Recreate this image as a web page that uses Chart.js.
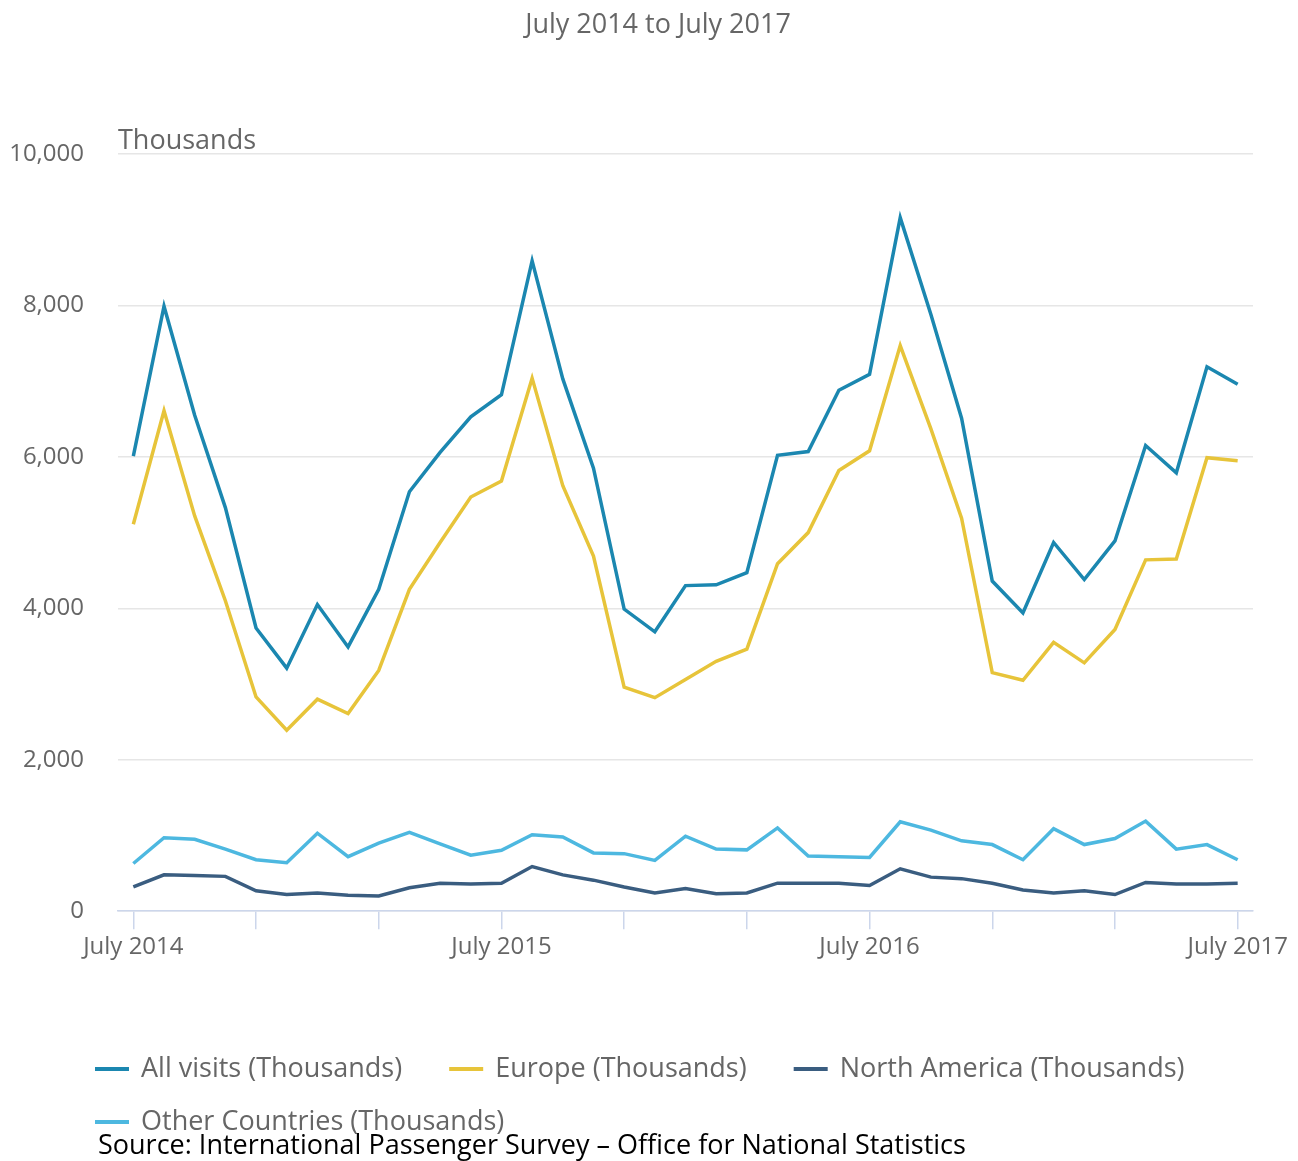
<!DOCTYPE html>
<html>
<head>
<meta charset="utf-8">
<script src="https://cdn.jsdelivr.net/npm/chart.js@4.4.1/dist/chart.umd.min.js"></script>
<style>
  html, body { margin: 0; padding: 0; background: #fff; }
  canvas { display: block; }
</style>
</head>
<body>
<canvas id="chart" width="1298" height="1161"></canvas>
<script>
// monthly visits, thousands
const months = [
  'July 2014', 'August 2014', 'September 2014', 'October 2014', 'November 2014', 'December 2014',
  'January 2015', 'February 2015', 'March 2015', 'April 2015', 'May 2015', 'June 2015',
  'July 2015', 'August 2015', 'September 2015', 'October 2015', 'November 2015', 'December 2015',
  'January 2016', 'February 2016', 'March 2016', 'April 2016', 'May 2016', 'June 2016',
  'July 2016', 'August 2016', 'September 2016', 'October 2016', 'November 2016', 'December 2016',
  'January 2017', 'February 2017', 'March 2017', 'April 2017', 'May 2017', 'June 2017',
  'July 2017',
];
const allVisits = [
  6010, 7990, 6550, 5330, 3740, 3210, 4050, 3490, 4250, 5540, 6060, 6530,
  6820, 8590, 7030, 5850, 3990, 3690, 4300, 4310, 4470, 6020, 6070, 6880,
  7090, 9160, 7880, 6510, 4360, 3940, 4870, 4380, 4890, 6150, 5790, 7190,
  6960,
];
const europe = [
  5110, 6610, 5220, 4100, 2830, 2390, 2800, 2610, 3180, 4250, 4870, 5470,
  5680, 7040, 5620, 4690, 2960, 2820, 3060, 3300, 3460, 4590, 5000, 5820,
  6080, 7470, 6370, 5190, 3150, 3050, 3550, 3280, 3720, 4640, 4650, 5990,
  5950,
];
const northAmerica = [
  320, 480, 470, 460, 270, 220, 240, 210, 200, 310, 370, 360,
  370, 590, 480, 410, 320, 240, 300, 230, 240, 370, 370, 370,
  340, 560, 450, 430, 370, 280, 240, 270, 220, 380, 360, 360,
  370,
];
const otherCountries = [
  630, 970, 950, 820, 680, 640, 1030, 720, 900, 1040, 890, 740,
  805, 1010, 980, 770, 760, 670, 990, 820, 810, 1100, 730, 720,
  710, 1180, 1070, 930, 880, 680, 1090, 880, 960, 1190, 820, 880,
  680,
];
const yTicks = [0, 2000, 4000, 6000, 8000, 10000];

const textcolor = '#666666';
const gridcolor = '#e6e6e6';
const axiscolor = '#ccd6eb';
const fontfamily = "'Open Sans', sans-serif";

Chart.defaults.font.family = fontfamily;
Chart.defaults.color = textcolor;

const series = [
  { label: 'All visits (Thousands)', data: allVisits, color: '#1b87b0' },
  { label: 'Europe (Thousands)', data: europe, color: '#e7c43a' },
  { label: 'North America (Thousands)', data: northAmerica, color: '#3a5d80' },
  { label: 'Other Countries (Thousands)', data: otherCountries, color: '#4db8e0' },
];

const extras = {
  id: 'extras',
  afterDraw: (chart) => {
    const ctx = chart.ctx;
    const area = chart.chartArea;

    ctx.save();

    // title, centred on the page rather than the plot
    ctx.fillStyle = textcolor;
    ctx.font = `27px ${fontfamily}`;
    ctx.textAlign = 'center';
    ctx.textBaseline = 'middle';
    ctx.fillText('July 2014 to July 2017', 658, 25);

    // unit label above the plot
    ctx.textAlign = 'left';
    ctx.textBaseline = 'alphabetic';
    ctx.fillText('Thousands', area.left, 149);

    // legend, left aligned, wraps like the original
    ctx.textBaseline = 'middle';
    let x = 95;
    let y = 1069;
    chart.data.datasets.forEach(ds => {
      const w = 34 + 12 + ctx.measureText(ds.label).width;
      if (x + w > 1260) {
        x = 95;
        y += 53;
      }
      ctx.fillStyle = ds.borderColor;
      ctx.fillRect(x, y - 2, 34, 4);
      ctx.fillStyle = textcolor;
      ctx.fillText(ds.label, x + 46, y);
      x += w + 47;
    });

    ctx.fillStyle = '#000000';
    ctx.fillText('Source: International Passenger Survey \u2013 Office for National Statistics', 98, 1146);

    ctx.restore();
  },
};

new Chart(document.getElementById('chart').getContext('2d'), {
  type: 'line',
  data: {
    labels: months,
    datasets: series.map(s => ({
      label: s.label,
      data: s.data,
      borderColor: s.color,
      backgroundColor: s.color,
      borderWidth: 3.5,
      pointRadius: 0,
      tension: 0,
      fill: false,
    })),
  },
  options: {
    responsive: false,
    animation: false,
    layout: {
      padding: { top: 154, right: 45, bottom: 195, left: 0 },
    },
    scales: {
      x: {
        type: 'category',
        offset: true,
        grid: {
          offset: false,
          drawOnChartArea: false,
          drawTicks: true,
          tickLength: 18,
          lineWidth: 1.5,
          color: (c) => (c.index % 4 === 0 ? axiscolor : 'rgba(0,0,0,0)'),
        },
        border: { color: axiscolor, width: 1.5 },
        ticks: {
          autoSkip: false,
          maxRotation: 0,
          padding: 4,
          font: { size: 24 },
          color: textcolor,
          callback: function(value) {
            const label = this.getLabelForValue(value);
            return label.startsWith('July') ? label : '';
          },
        },
      },
      y: {
        min: 0,
        max: 10000,
        afterFit: (scale) => { scale.width = 118; },
        afterBuildTicks: (scale) => { scale.ticks = yTicks.map(v => ({ value: v })); },
        grid: { color: gridcolor, lineWidth: 1.5, drawTicks: false },
        border: { display: false },
        ticks: {
          padding: 34,
          font: { size: 24 },
          color: textcolor,
          callback: (v) => v.toLocaleString('en-GB'),
        },
      },
    },
    plugins: {
      legend: { display: false },
      tooltip: { enabled: false },
      title: { display: false },
    },
  },
  plugins: [extras],
});
</script>
</body>
</html>
